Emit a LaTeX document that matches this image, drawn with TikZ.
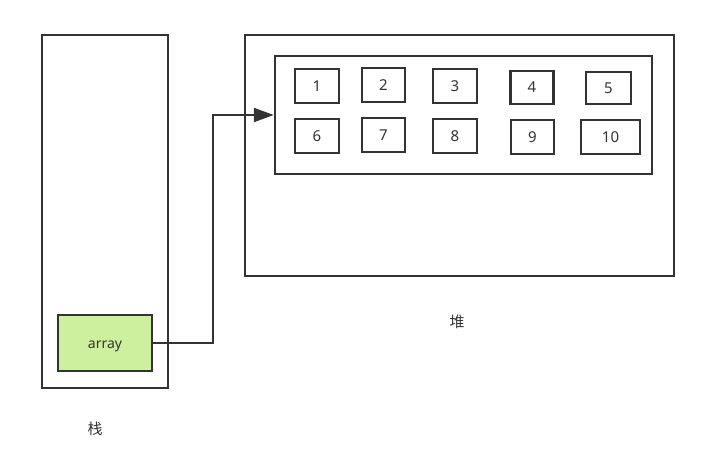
\documentclass[tikz,border=0pt]{standalone}
\usepackage{fontspec}
\setmainfont{Noto Sans}
\newfontfamily\cjkf{Noto Sans CJK SC}
\usetikzlibrary{arrows.meta}
\definecolor{ln}{HTML}{333333}
\definecolor{grn}{HTML}{CDF09E}
\begin{document}
\begin{tikzpicture}[x=1pt,y=-1pt,
  box/.style={draw=ln,line width=2.5pt,inner sep=0pt},
  numbox/.style={box,font=\fontsize{15}{17}\selectfont,text=ln},
  conn/.style={draw=ln,line width=2.2pt,-{Triangle[length=20pt,width=14pt]}}]
\useasboundingbox (0,0) rectangle (704,459);
\node[box,minimum width=126pt,minimum height=353pt] (stack) at (105,211.5) {};
\node[box,minimum width=429pt,minimum height=241pt] (heap) at (459.5,155.5) {};
\node[box,minimum width=377pt,minimum height=118pt] (inner) at (463.5,115) {};
\node[box,fill=grn,minimum width=94pt,minimum height=56pt,text height=11pt,text depth=0pt,font=\fontsize{14}{16}\selectfont,text=ln] (array) at (105,343) {array};
\node[numbox,minimum width=44pt,minimum height=34pt] (n1) at (317,86) {1};
\node[numbox,minimum width=43pt,minimum height=34pt] (n2) at (383.5,85) {2};
\node[numbox,minimum width=44pt,minimum height=34pt] (n3) at (455,86) {3};
\node[numbox,minimum width=43pt,minimum height=33pt] (n4) at (532,87.5) {4};
\node[numbox,minimum width=45pt,minimum height=32pt] (n5) at (608.5,88) {5};
\node[numbox,minimum width=44pt,minimum height=34pt] (n6) at (317,136) {6};
\node[numbox,minimum width=43pt,minimum height=34pt] (n7) at (383.5,135) {7};
\node[numbox,minimum width=44pt,minimum height=34pt] (n8) at (455,136) {8};
\node[numbox,minimum width=43pt,minimum height=34pt] (n9) at (532.5,137) {9};
\node[numbox,minimum width=59pt,minimum height=34pt] (n10) at (610.5,137) {10};
\node[font=\cjkf\fontsize{15}{17}\selectfont,text=ln] (lstack) at (95,429) {栈};
\node[font=\cjkf\fontsize{15}{17}\selectfont,text=ln] (lheap) at (457,322) {堆};
\coordinate (tip) at (inner.west |- 0,115);
\draw[conn] (array.east) -- (213,343) -- (213,115) -- (tip);
\end{tikzpicture}
\end{document}
